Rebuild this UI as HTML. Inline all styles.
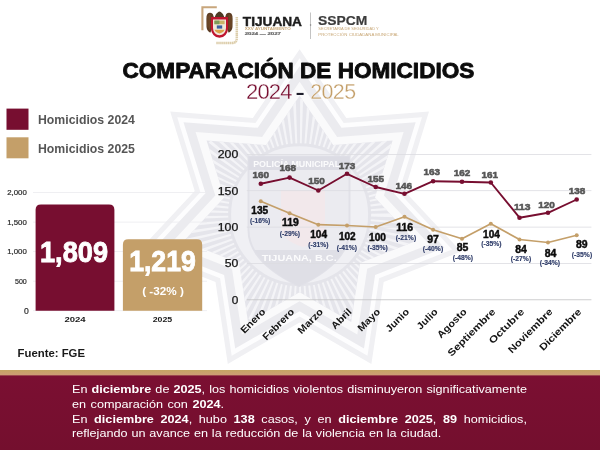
<!DOCTYPE html>
<html lang="es"><head><meta charset="utf-8"><title>Comparación de homicidios 2024 - 2025</title>
<style>
html,body{margin:0;padding:0;background:#fff;}
body{width:600px;height:450px;overflow:hidden;position:relative;font-family:"Liberation Sans",sans-serif;}
svg{display:block;position:absolute;left:0;top:0;font-family:"Liberation Sans",sans-serif;}
.ft{position:absolute;left:71.7px;width:402.6px;color:#fff;font-size:11.2px;line-height:14px;white-space:nowrap;
transform:scaleX(1.13);transform-origin:0 0;font-family:"Liberation Sans",sans-serif;}
.ft{text-align:justify;text-align-last:justify;white-space:normal;}
.ft b{font-weight:bold;}
</style></head><body>
<svg width="600" height="450" viewBox="0 0 600 450">
<rect width="600" height="450" fill="#fff"/>
<g id="wm">
<polygon points="299.6,49.3 346.3,117.9 429.0,111.6 404.5,190.9 461.0,251.6 383.7,281.9 371.4,363.9 299.6,322.4 227.8,363.9 215.5,281.9 138.2,251.6 194.7,190.9 170.2,111.6 252.9,117.9" fill="#f0f0f3"/>
<polygon points="299.6,58.3 343.7,123.1 422.0,117.2 398.8,192.2 452.2,249.6 379.1,278.2 367.5,355.8 299.6,316.5 231.7,355.8 220.1,278.2 147.0,249.6 200.4,192.2 177.2,117.2 255.5,123.1" fill="#fdfdfe"/>
<polygon points="299.6,66.3 341.5,127.8 415.7,122.2 393.7,193.3 444.4,247.8 375.1,275.0 364.0,348.6 299.6,311.3 235.2,348.6 224.1,275.0 154.8,247.8 205.5,193.3 183.5,122.2 257.7,127.8" fill="#ebebef"/>
<polygon points="299.6,81.8 337.1,136.9 403.6,131.9 383.9,195.6 429.3,244.4 367.2,268.7 357.3,334.6 299.6,301.2 241.9,334.6 232.0,268.7 169.9,244.4 215.3,195.6 195.6,131.9 262.1,136.9" fill="#fafafb"/>
<polygon points="299.6,95.8 333.2,145.1 392.6,140.6 375.0,197.6 415.6,241.3 360.1,263.0 351.2,322.0 299.6,292.2 248.0,322.0 239.1,263.0 183.6,241.3 224.2,197.6 206.6,140.6 266.0,145.1" fill="#e5e5eb"/>
<clipPath id="ic"><polygon points="299.6,95.8 333.2,145.1 392.6,140.6 375.0,197.6 415.6,241.3 360.1,263.0 351.2,322.0 299.6,292.2 248.0,322.0 239.1,263.0 183.6,241.3 224.2,197.6 206.6,140.6 266.0,145.1"/></clipPath>
<circle cx="299.6" cy="214.8" r="93" fill="none" stroke="#f4f4f7" stroke-width="46" stroke-dasharray="2.4 3.6" clip-path="url(#ic)"/>
<circle cx="299.6" cy="214.8" r="70" fill="#f0f0f4"/>
<circle cx="299.6" cy="214.8" r="70" fill="none" stroke="#e4e4ea" stroke-width="3"/>
<path d="M248.5 156.5 H349.5 V230 Q349.5 262 299 286 Q248.5 262 248.5 230 Z" fill="#ebebf0" stroke="#e1e1e8" stroke-width="2"/>
<rect x="248.5" y="156.5" width="101" height="13.5" fill="#dcdce4"/>
<path d="M254.5 250 H343.5 Q332 270 299 286 Q266 270 254.5 250 Z" fill="#dfdfe6"/>
<path d="M281 190 H325 V228 Q325 240 303 247 Q281 240 281 228 Z" fill="#f2e8eb"/>
<text x="296.7" y="166.8" font-size="9" fill="#fbfbfc" font-weight="bold" text-anchor="middle" textLength="87" lengthAdjust="spacingAndGlyphs">POLICÍA MUNICIPAL</text>
<text x="299.2" y="260.6" font-size="9.6" fill="#fbfbfc" font-weight="bold" text-anchor="middle" textLength="75" lengthAdjust="spacingAndGlyphs">TIJUANA, B.C.</text>
</g>
<g id="header">
<path d="M216.8 7.3 H202.4 V30.3" fill="none" stroke="#c8a67c" stroke-width="2.1"/>
<path d="M216.3 43 H232 Q236.8 43 236.8 38 V16.4" fill="none" stroke="#dccdaa" stroke-width="2.5" stroke-dasharray="1.5 0.45"/>
<g id="crest">
<path d="M214 17.5 L212.8 14 Q210 11.4 207.5 13.8 Q206.3 15.5 206.4 19 L206.5 27 Q207 31.2 210.3 32.8 Q211.7 30.5 212.2 27.5 L213.6 21 Z" fill="#5b3b22"/>
<path d="M225 17.5 L226.2 14 Q229 11.4 231.5 13.8 Q232.7 15.5 232.6 19 L232.5 27 Q232 31.2 228.7 32.8 Q227.3 30.5 226.8 27.5 L225.4 21 Z" fill="#5b3b22"/>
<path d="M208 15.5 L208 27.5 M209.8 14.3 L209.8 29.5 M229.2 14.3 L229.2 29.5 M231 15.5 L231 27.5" stroke="#8a5a30" stroke-width="0.6" fill="none"/>
<path d="M214.5 17.5 Q215.5 13.5 218.2 12 Q219.5 11 220.8 12 Q223.5 13.5 224.5 17.5 Z" fill="#4e3a24"/>
<path d="M210.9 17 H228.1 V28 A8.6 9.8 0 0 1 210.9 28 Z" fill="#c0152f"/>
<path d="M213 19.4 H226 V28 A6.5 7.3 0 0 1 213 28 Z" fill="#f0e8da"/>
<rect x="214.4" y="20.6" width="10.2" height="3.6" fill="#c9b46a"/>
<rect x="214.4" y="20.6" width="5" height="3.6" fill="#7d9a5a"/>
<rect x="216.8" y="25.4" width="5.4" height="3.2" fill="#3b5f9f"/>
<path d="M214.6 29.8 H224.4 Q223.8 32.4 219.5 33.6 Q215.2 32.4 214.6 29.8Z" fill="#dba24a"/>
</g>
<text x="242.8" y="25.6" font-size="13.6" fill="#1c1c1c" font-weight="bold" textLength="59.2" lengthAdjust="spacingAndGlyphs" stroke="#1c1c1c" stroke-width="0.45">TIJUANA</text>
<text x="244.7" y="30.4" font-size="3.2" fill="#c9a877" font-weight="bold" textLength="46" lengthAdjust="spacingAndGlyphs">XXV AYUNTAMIENTO</text>
<text x="244.7" y="34.9" font-size="2.9" fill="#6a6a6a" font-weight="bold" textLength="36.2" lengthAdjust="spacingAndGlyphs" stroke="#6a6a6a" stroke-width="0.15">2024 — 2027</text>
<rect x="310.3" y="12.5" width="0.6" height="26.5" fill="#9a9a9a"/>
<path d="M310.6 24 L311.5 25 L310.6 26 L309.7 25Z" fill="#8a8a8a"/>
<text x="318.1" y="25.3" font-size="13.6" fill="#3c3c3c" font-weight="bold" textLength="49.3" lengthAdjust="spacingAndGlyphs" stroke="#3c3c3c" stroke-width="0.2">SSPCM</text>
<text x="318.3" y="30.4" font-size="3.3" fill="#c9a877" textLength="60.5" lengthAdjust="spacingAndGlyphs">SECRETARÍA DE SEGURIDAD Y</text>
<text x="318.3" y="35.5" font-size="3.3" fill="#c9a877" textLength="80.5" lengthAdjust="spacingAndGlyphs">PROTECCIÓN CIUDADANA MUNICIPAL</text>
</g>
<text x="298.4" y="77.8" font-size="22.8" fill="#0c0c0c" font-weight="bold" text-anchor="middle" textLength="351.8" lengthAdjust="spacingAndGlyphs" stroke="#0c0c0c" stroke-width="0.9" stroke-linejoin="round">COMPARACIÓN DE HOMICIDIOS</text>
<text transform="translate(246 98.7) scale(0.985 1)" font-size="22.4" fill="#770e30" letter-spacing="-0.85" stroke="#fff" stroke-width="0.3">2024</text>
<rect x="296.6" y="92.9" width="7" height="2.1" fill="#1d1d2b"/>
<text transform="translate(310.2 98.7) scale(0.955 1)" font-size="22.4" fill="#c49f69" letter-spacing="-0.6" stroke="#fff" stroke-width="0.3">2025</text>
<rect x="6.5" y="108.6" width="22" height="21.2" fill="#770e30"/>
<rect x="6.5" y="137.3" width="22" height="21" fill="#c49f69"/>
<text x="38" y="124" font-size="12.3" fill="#565656" font-weight="bold" textLength="96.9" lengthAdjust="spacingAndGlyphs">Homicidios 2024</text>
<text x="38" y="152.5" font-size="12.3" fill="#565656" font-weight="bold" textLength="96.9" lengthAdjust="spacingAndGlyphs">Homicidios 2025</text>
<rect x="33" y="310.3" width="174" height="0.8" fill="#ececef"/>
<text x="28.8" y="314.1" font-size="8.6" fill="#2a2a2a" text-anchor="end" stroke="#2a2a2a" stroke-width="0.2">0</text>
<rect x="33" y="280.8" width="174" height="0.8" fill="#ececef"/>
<text x="26.8" y="283.8" font-size="7.8" fill="#2a2a2a" text-anchor="end" textLength="11.8" lengthAdjust="spacingAndGlyphs" stroke="#2a2a2a" stroke-width="0.2">500</text>
<rect x="33" y="251.2" width="174" height="0.8" fill="#ececef"/>
<text x="26.8" y="254.2" font-size="7.8" fill="#2a2a2a" text-anchor="end" textLength="19.6" lengthAdjust="spacingAndGlyphs" stroke="#2a2a2a" stroke-width="0.2">1,000</text>
<rect x="33" y="221.7" width="174" height="0.8" fill="#ececef"/>
<text x="26.8" y="224.7" font-size="7.8" fill="#2a2a2a" text-anchor="end" textLength="19.6" lengthAdjust="spacingAndGlyphs" stroke="#2a2a2a" stroke-width="0.2">1,500</text>
<rect x="33" y="192.2" width="174" height="0.8" fill="#ececef"/>
<text x="26.8" y="195.2" font-size="7.8" fill="#2a2a2a" text-anchor="end" textLength="19.6" lengthAdjust="spacingAndGlyphs" stroke="#2a2a2a" stroke-width="0.2">2,000</text>
<path d="M35.6 310.7 V209.8 Q35.6 204.4 41.0 204.4 H109.0 Q114.4 204.4 114.4 209.8 V310.7 Z" fill="#770e30"/>
<path d="M122.9 310.7 V244.70000000000002 Q122.9 239.3 128.3 239.3 H196.79999999999998 Q202.2 239.3 202.2 244.70000000000002 V310.7 Z" fill="#c49f69"/>
<text x="74" y="262" font-size="30" fill="#fff" font-weight="bold" text-anchor="middle" textLength="68" lengthAdjust="spacingAndGlyphs" stroke="#fff" stroke-width="0.9">1,809</text>
<text x="162.5" y="271.4" font-size="30" fill="#fff" font-weight="bold" text-anchor="middle" textLength="66.7" lengthAdjust="spacingAndGlyphs" stroke="#fff" stroke-width="0.9">1,219</text>
<text x="163.1" y="295.1" font-size="11.2" fill="#fff" font-weight="bold" text-anchor="middle" textLength="41.8" lengthAdjust="spacingAndGlyphs">( -32% )</text>
<text x="75" y="322" font-size="7.7" fill="#1a1a1a" font-weight="bold" text-anchor="middle" textLength="21.2" lengthAdjust="spacingAndGlyphs">2024</text>
<text x="162.5" y="321.7" font-size="7.7" fill="#1a1a1a" font-weight="bold" text-anchor="middle" textLength="19.5" lengthAdjust="spacingAndGlyphs">2025</text>
<text x="17.6" y="357" font-size="11.7" fill="#1a1a1a" font-weight="bold" textLength="67.4" lengthAdjust="spacingAndGlyphs">Fuente: FGE</text>
<rect x="246.8" y="299.4" width="344.6" height="0.8" fill="#c2c2c4"/>
<text x="238.3" y="303.6" font-size="10.6" fill="#141414" text-anchor="end" textLength="6.6" lengthAdjust="spacingAndGlyphs" stroke="#141414" stroke-width="0.25">0</text>
<rect x="246.8" y="263.1" width="344.6" height="0.8" fill="#dcdce1"/>
<text x="238.3" y="267.2" font-size="10.6" fill="#141414" text-anchor="end" textLength="13.6" lengthAdjust="spacingAndGlyphs" stroke="#141414" stroke-width="0.25">50</text>
<rect x="246.8" y="226.7" width="344.6" height="0.8" fill="#dcdce1"/>
<text x="238.3" y="230.9" font-size="10.6" fill="#141414" text-anchor="end" textLength="20.5" lengthAdjust="spacingAndGlyphs" stroke="#141414" stroke-width="0.25">100</text>
<rect x="246.8" y="190.3" width="344.6" height="0.8" fill="#dcdce1"/>
<text x="238.3" y="194.5" font-size="10.6" fill="#141414" text-anchor="end" textLength="20.5" lengthAdjust="spacingAndGlyphs" stroke="#141414" stroke-width="0.25">150</text>
<rect x="246.8" y="154.0" width="344.6" height="0.8" fill="#dcdce1"/>
<text x="238.3" y="158.2" font-size="10.6" fill="#141414" text-anchor="end" textLength="20.5" lengthAdjust="spacingAndGlyphs" stroke="#141414" stroke-width="0.25">200</text>
<polyline points="260.8,201.3 289.6,213.3 318.3,224.7 347.0,225.5 375.7,227.0 404.5,216.8 433.1,229.7 462.0,238.7 490.8,223.7 519.5,239.5 548.0,242.5 576.7,235.3" fill="none" stroke="#c49f69" stroke-width="1.7" stroke-linejoin="round"/>
<circle cx="260.8" cy="201.3" r="2" fill="#c49f69"/>
<circle cx="289.6" cy="213.3" r="2" fill="#c49f69"/>
<circle cx="318.3" cy="224.7" r="2" fill="#c49f69"/>
<circle cx="347.0" cy="225.5" r="2" fill="#c49f69"/>
<circle cx="375.7" cy="227.0" r="2" fill="#c49f69"/>
<circle cx="404.5" cy="216.8" r="2" fill="#c49f69"/>
<circle cx="433.1" cy="229.7" r="2" fill="#c49f69"/>
<circle cx="462.0" cy="238.7" r="2" fill="#c49f69"/>
<circle cx="490.8" cy="223.7" r="2" fill="#c49f69"/>
<circle cx="519.5" cy="239.5" r="2" fill="#c49f69"/>
<circle cx="548.0" cy="242.5" r="2" fill="#c49f69"/>
<circle cx="576.7" cy="235.3" r="2" fill="#c49f69"/>
<polyline points="260.8,183.8 289.6,177.6 318.3,190.5 347.0,173.8 375.7,187.0 404.5,193.8 433.1,181.2 462.0,181.8 490.8,182.5 519.5,217.7 548.0,212.8 576.7,199.5" fill="none" stroke="#770e30" stroke-width="1.9" stroke-linejoin="round"/>
<circle cx="260.8" cy="183.8" r="2.3" fill="#770e30"/>
<circle cx="289.6" cy="177.6" r="2.3" fill="#770e30"/>
<circle cx="318.3" cy="190.5" r="2.3" fill="#770e30"/>
<circle cx="347.0" cy="173.8" r="2.3" fill="#770e30"/>
<circle cx="375.7" cy="187.0" r="2.3" fill="#770e30"/>
<circle cx="404.5" cy="193.8" r="2.3" fill="#770e30"/>
<circle cx="433.1" cy="181.2" r="2.3" fill="#770e30"/>
<circle cx="462.0" cy="181.8" r="2.3" fill="#770e30"/>
<circle cx="490.8" cy="182.5" r="2.3" fill="#770e30"/>
<circle cx="519.5" cy="217.7" r="2.3" fill="#770e30"/>
<circle cx="548.0" cy="212.8" r="2.3" fill="#770e30"/>
<circle cx="576.7" cy="199.5" r="2.3" fill="#770e30"/>
<text x="260.7" y="177.5" font-size="9.5" fill="#565656" font-weight="bold" text-anchor="middle" textLength="16.6" lengthAdjust="spacingAndGlyphs" stroke="#565656" stroke-width="0.55">160</text>
<text x="287.7" y="171.3" font-size="9.5" fill="#565656" font-weight="bold" text-anchor="middle" textLength="16.6" lengthAdjust="spacingAndGlyphs" stroke="#565656" stroke-width="0.55">168</text>
<text x="316.5" y="184.2" font-size="9.5" fill="#565656" font-weight="bold" text-anchor="middle" textLength="16.6" lengthAdjust="spacingAndGlyphs" stroke="#565656" stroke-width="0.55">150</text>
<text x="347" y="168.7" font-size="9.5" fill="#565656" font-weight="bold" text-anchor="middle" textLength="16.6" lengthAdjust="spacingAndGlyphs" stroke="#565656" stroke-width="0.55">173</text>
<text x="375.8" y="181.7" font-size="9.5" fill="#565656" font-weight="bold" text-anchor="middle" textLength="16.6" lengthAdjust="spacingAndGlyphs" stroke="#565656" stroke-width="0.55">155</text>
<text x="403.7" y="188.7" font-size="9.5" fill="#565656" font-weight="bold" text-anchor="middle" textLength="16.6" lengthAdjust="spacingAndGlyphs" stroke="#565656" stroke-width="0.55">146</text>
<text x="431.7" y="175.3" font-size="9.5" fill="#565656" font-weight="bold" text-anchor="middle" textLength="16.6" lengthAdjust="spacingAndGlyphs" stroke="#565656" stroke-width="0.55">163</text>
<text x="462" y="176.3" font-size="9.5" fill="#565656" font-weight="bold" text-anchor="middle" textLength="16.6" lengthAdjust="spacingAndGlyphs" stroke="#565656" stroke-width="0.55">162</text>
<text x="489.8" y="177.5" font-size="9.5" fill="#565656" font-weight="bold" text-anchor="middle" textLength="16.6" lengthAdjust="spacingAndGlyphs" stroke="#565656" stroke-width="0.55">161</text>
<text x="522.2" y="209.5" font-size="9.5" fill="#565656" font-weight="bold" text-anchor="middle" textLength="16.6" lengthAdjust="spacingAndGlyphs" stroke="#565656" stroke-width="0.55">113</text>
<text x="546.5" y="208.3" font-size="9.5" fill="#565656" font-weight="bold" text-anchor="middle" textLength="16.6" lengthAdjust="spacingAndGlyphs" stroke="#565656" stroke-width="0.55">120</text>
<text x="577" y="194.2" font-size="9.5" fill="#565656" font-weight="bold" text-anchor="middle" textLength="16.6" lengthAdjust="spacingAndGlyphs" stroke="#565656" stroke-width="0.55">138</text>
<text x="259.7" y="214.2" font-size="10" fill="#0c0c0c" font-weight="bold" text-anchor="middle" textLength="16.8" lengthAdjust="spacingAndGlyphs" stroke="#0c0c0c" stroke-width="0.45">135</text>
<text x="290.5" y="225.8" font-size="10" fill="#0c0c0c" font-weight="bold" text-anchor="middle" textLength="16.8" lengthAdjust="spacingAndGlyphs" stroke="#0c0c0c" stroke-width="0.45">119</text>
<text x="318.6" y="237.5" font-size="10" fill="#0c0c0c" font-weight="bold" text-anchor="middle" textLength="16.8" lengthAdjust="spacingAndGlyphs" stroke="#0c0c0c" stroke-width="0.45">104</text>
<text x="347.3" y="240" font-size="10" fill="#0c0c0c" font-weight="bold" text-anchor="middle" textLength="16.8" lengthAdjust="spacingAndGlyphs" stroke="#0c0c0c" stroke-width="0.45">102</text>
<text x="377.5" y="241.2" font-size="10" fill="#0c0c0c" font-weight="bold" text-anchor="middle" textLength="16.8" lengthAdjust="spacingAndGlyphs" stroke="#0c0c0c" stroke-width="0.45">100</text>
<text x="404.6" y="230.8" font-size="10" fill="#0c0c0c" font-weight="bold" text-anchor="middle" textLength="16.8" lengthAdjust="spacingAndGlyphs" stroke="#0c0c0c" stroke-width="0.45">116</text>
<text x="433" y="242.5" font-size="10" fill="#0c0c0c" font-weight="bold" text-anchor="middle" textLength="11.6" lengthAdjust="spacingAndGlyphs" stroke="#0c0c0c" stroke-width="0.45">97</text>
<text x="462.5" y="251.2" font-size="10" fill="#0c0c0c" font-weight="bold" text-anchor="middle" textLength="11.6" lengthAdjust="spacingAndGlyphs" stroke="#0c0c0c" stroke-width="0.45">85</text>
<text x="491.5" y="238" font-size="10" fill="#0c0c0c" font-weight="bold" text-anchor="middle" textLength="16.8" lengthAdjust="spacingAndGlyphs" stroke="#0c0c0c" stroke-width="0.45">104</text>
<text x="521" y="253" font-size="10" fill="#0c0c0c" font-weight="bold" text-anchor="middle" textLength="11.6" lengthAdjust="spacingAndGlyphs" stroke="#0c0c0c" stroke-width="0.45">84</text>
<text x="550.5" y="256.7" font-size="10" fill="#0c0c0c" font-weight="bold" text-anchor="middle" textLength="11.6" lengthAdjust="spacingAndGlyphs" stroke="#0c0c0c" stroke-width="0.45">84</text>
<text x="581.7" y="248" font-size="10" fill="#0c0c0c" font-weight="bold" text-anchor="middle" textLength="11.6" lengthAdjust="spacingAndGlyphs" stroke="#0c0c0c" stroke-width="0.45">89</text>
<text x="260.2" y="223.1" font-size="6.8" fill="#33406c" font-weight="bold" text-anchor="middle" textLength="20.3" lengthAdjust="spacingAndGlyphs" stroke="#33406c" stroke-width="0.15">(-16%)</text>
<text x="289.8" y="235.9" font-size="6.8" fill="#33406c" font-weight="bold" text-anchor="middle" textLength="20.3" lengthAdjust="spacingAndGlyphs" stroke="#33406c" stroke-width="0.15">(-29%)</text>
<text x="318.3" y="246.7" font-size="6.8" fill="#33406c" font-weight="bold" text-anchor="middle" textLength="20.3" lengthAdjust="spacingAndGlyphs" stroke="#33406c" stroke-width="0.15">(-31%)</text>
<text x="346.8" y="249.7" font-size="6.8" fill="#33406c" font-weight="bold" text-anchor="middle" textLength="20.3" lengthAdjust="spacingAndGlyphs" stroke="#33406c" stroke-width="0.15">(-41%)</text>
<text x="377.7" y="249.7" font-size="6.8" fill="#33406c" font-weight="bold" text-anchor="middle" textLength="20.3" lengthAdjust="spacingAndGlyphs" stroke="#33406c" stroke-width="0.15">(-35%)</text>
<text x="406" y="239.6" font-size="6.8" fill="#33406c" font-weight="bold" text-anchor="middle" textLength="20.3" lengthAdjust="spacingAndGlyphs" stroke="#33406c" stroke-width="0.15">(-21%)</text>
<text x="433" y="251.4" font-size="6.8" fill="#33406c" font-weight="bold" text-anchor="middle" textLength="20.3" lengthAdjust="spacingAndGlyphs" stroke="#33406c" stroke-width="0.15">(-40%)</text>
<text x="462.9" y="260.1" font-size="6.8" fill="#33406c" font-weight="bold" text-anchor="middle" textLength="20.3" lengthAdjust="spacingAndGlyphs" stroke="#33406c" stroke-width="0.15">(-48%)</text>
<text x="491.4" y="246.2" font-size="6.8" fill="#33406c" font-weight="bold" text-anchor="middle" textLength="20.3" lengthAdjust="spacingAndGlyphs" stroke="#33406c" stroke-width="0.15">(-35%)</text>
<text x="521" y="260.9" font-size="6.8" fill="#33406c" font-weight="bold" text-anchor="middle" textLength="20.3" lengthAdjust="spacingAndGlyphs" stroke="#33406c" stroke-width="0.15">(-27%)</text>
<text x="549.8" y="265.1" font-size="6.8" fill="#33406c" font-weight="bold" text-anchor="middle" textLength="20.3" lengthAdjust="spacingAndGlyphs" stroke="#33406c" stroke-width="0.15">(-34%)</text>
<text x="582" y="257.1" font-size="6.8" fill="#33406c" font-weight="bold" text-anchor="middle" textLength="20.3" lengthAdjust="spacingAndGlyphs" stroke="#33406c" stroke-width="0.15">(-35%)</text>
<text transform="translate(266.1 312.4) rotate(-45) scale(1.1 1)" font-size="9.8" font-weight="bold" fill="#141414" text-anchor="end">Enero</text>
<text transform="translate(294.9 312.4) rotate(-45) scale(1.1 1)" font-size="9.8" font-weight="bold" fill="#141414" text-anchor="end">Febrero</text>
<text transform="translate(323.6 312.4) rotate(-45) scale(1.1 1)" font-size="9.8" font-weight="bold" fill="#141414" text-anchor="end">Marzo</text>
<text transform="translate(352.3 312.4) rotate(-45) scale(1.1 1)" font-size="9.8" font-weight="bold" fill="#141414" text-anchor="end">Abril</text>
<text transform="translate(381.0 312.4) rotate(-45) scale(1.1 1)" font-size="9.8" font-weight="bold" fill="#141414" text-anchor="end">Mayo</text>
<text transform="translate(409.8 312.4) rotate(-45) scale(1.1 1)" font-size="9.8" font-weight="bold" fill="#141414" text-anchor="end">Junio</text>
<text transform="translate(438.4 312.4) rotate(-45) scale(1.1 1)" font-size="9.8" font-weight="bold" fill="#141414" text-anchor="end">Julio</text>
<text transform="translate(467.3 312.4) rotate(-45) scale(1.1 1)" font-size="9.8" font-weight="bold" fill="#141414" text-anchor="end">Agosto</text>
<text transform="translate(496.1 312.4) rotate(-45) scale(1.185 1)" font-size="9.8" font-weight="bold" fill="#141414" text-anchor="end">Septiembre</text>
<text transform="translate(524.8 312.4) rotate(-45) scale(1.21 1)" font-size="9.8" font-weight="bold" fill="#141414" text-anchor="end">Octubre</text>
<text transform="translate(553.3 312.4) rotate(-45) scale(1.155 1)" font-size="9.8" font-weight="bold" fill="#141414" text-anchor="end">Noviembre</text>
<text transform="translate(582.0 312.4) rotate(-45) scale(1.16 1)" font-size="9.8" font-weight="bold" fill="#141414" text-anchor="end">Diciembre</text>
<defs><linearGradient id="fg" x1="0" y1="0" x2="0" y2="1"><stop offset="0" stop-color="#7b0f32"/><stop offset="1" stop-color="#740f2e"/></linearGradient>
<linearGradient id="gg" x1="0" y1="0" x2="0" y2="1"><stop offset="0" stop-color="#c5a363"/><stop offset="1" stop-color="#cf9b78"/></linearGradient></defs>
<rect x="0" y="370" width="600" height="6" fill="url(#gg)"/>
<rect x="0" y="375.4" width="600" height="75" fill="url(#fg)"/>
</svg>
<div class="ft" style="top:382.1px">En <b>diciembre</b> de <b>2025</b>, los homicidios violentos disminuyeron significativamente</div>
<div class="ft" style="top:396.5px;width:134.6px">en comparación con <b>2024</b>.</div>
<div class="ft" style="top:411.5px">En <b>diciembre 2024</b>, hubo <b>138</b> casos, y en <b>diciembre 2025</b>, <b>89</b> homicidios,</div>
<div class="ft" style="top:425.9px;width:326.8px">reflejando un avance en la reducción de la violencia en la ciudad.</div>
</body></html>
